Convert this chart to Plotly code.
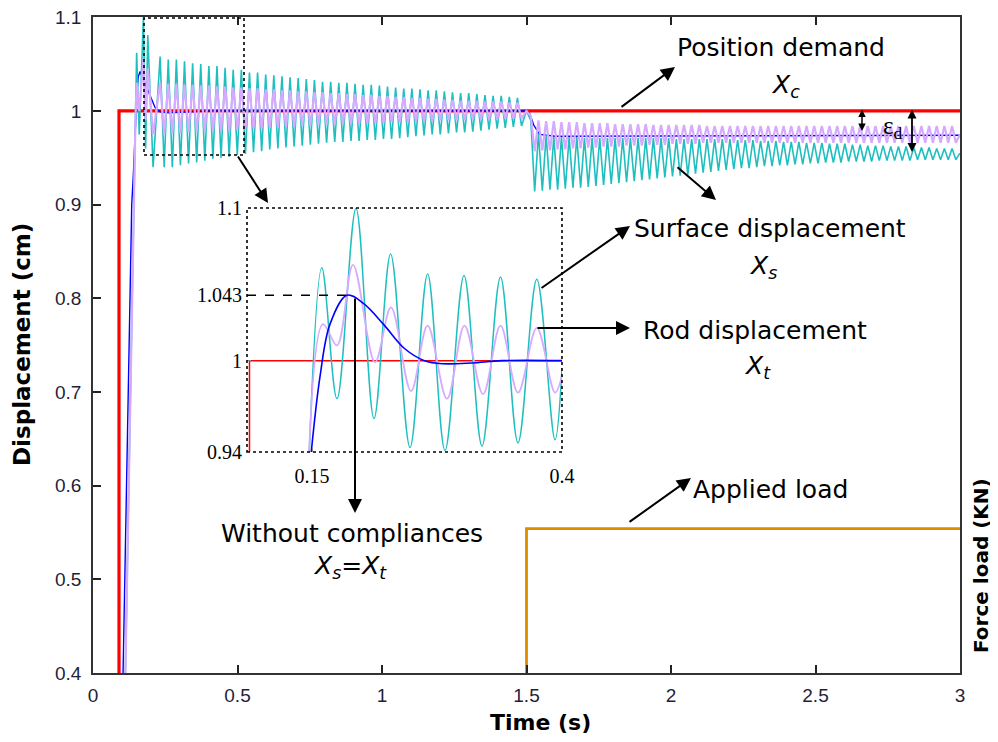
import plotly.graph_objects as go

# ---------------- data ----------------
# Position demand X_c
red_t = [0.09, 0.09, 3.0]
red_v = [0.40, 1.00, 1.00]

# Without compliances (X_s = X_t), main plot
blue_t = [0.104, 0.110, 0.118, 0.126, 0.134, 0.140, 0.145, 0.152, 0.157, 0.163,
          0.174, 0.198, 0.215, 0.232, 0.260, 0.400, 1.500, 1.510, 1.525, 1.545, 1.600, 3.000]
blue_v = [0.400, 0.500, 0.650, 0.780, 0.900, 0.934, 0.977, 1.020, 1.037, 1.042,
          1.034, 1.016, 1.0035, 0.999, 0.998, 1.000, 1.000, 0.998, 0.985, 0.975, 0.973, 0.974]

# Surface displacement X_s (cyan): start-up, then one peak/trough per cycle
cyan_rise_t = [0.112, 0.138, 0.147, 0.151, 0.160, 0.1745, 0.182, 0.1895, 0.208]
cyan_rise_v = [0.400, 0.850, 1.000, 1.062, 0.975, 1.101, 0.960, 1.081, 0.940]
pre_t0, pre_period = 0.2323, 0.0281      # cycles before the load (t < 1.5 s)
cyan_pre_hi = [1.058, 1.055, 1.055, 1.053, 1.051, 1.050, 1.048, 1.048, 1.046, 1.044,
               1.044, 1.041, 1.041, 1.039, 1.038, 1.037, 1.036, 1.035, 1.034, 1.033,
               1.031, 1.031, 1.030, 1.030, 1.029, 1.028, 1.028, 1.027, 1.026, 1.025,
               1.024, 1.024, 1.023, 1.022, 1.022, 1.021, 1.020, 1.019, 1.019, 1.018,
               1.017, 1.016, 1.016, 1.015, 1.014]
cyan_pre_lo = [0.940, 0.940, 0.942, 0.944, 0.945, 0.947, 0.949, 0.950, 0.951, 0.953,
               0.954, 0.956, 0.957, 0.959, 0.960, 0.961, 0.962, 0.963, 0.964, 0.965,
               0.966, 0.967, 0.967, 0.968, 0.968, 0.969, 0.969, 0.970, 0.970, 0.971,
               0.972, 0.973, 0.974, 0.975, 0.975, 0.976, 0.977, 0.977, 0.978, 0.979,
               0.980, 0.981, 0.982, 0.983, 0.984]
cyan_step_t = [1.500]
cyan_step_v = [1.000]
post_t0, post_period = 1.515, 0.0265     # cycles after the load (t > 1.5 s)
cyan_post_hi = [0.990, 0.976, 0.974, 0.972, 0.972, 0.972, 0.972, 0.971, 0.971, 0.971,
                0.971, 0.971, 0.971, 0.971, 0.971, 0.971, 0.971, 0.971, 0.971, 0.970,
                0.970, 0.970, 0.970, 0.970, 0.970, 0.970, 0.970, 0.969, 0.969, 0.969,
                0.968, 0.968, 0.968, 0.967, 0.967, 0.967, 0.966, 0.966, 0.966, 0.965,
                0.965, 0.965, 0.964, 0.964, 0.963, 0.963, 0.963, 0.962, 0.962, 0.962,
                0.961, 0.961, 0.961, 0.960, 0.960, 0.960]
cyan_post_lo = [0.914, 0.915, 0.916, 0.916, 0.917, 0.918, 0.918, 0.919, 0.920, 0.921,
                0.922, 0.923, 0.924, 0.925, 0.926, 0.927, 0.928, 0.929, 0.930, 0.931,
                0.932, 0.933, 0.934, 0.935, 0.936, 0.937, 0.938, 0.939, 0.939, 0.940,
                0.941, 0.941, 0.942, 0.942, 0.943, 0.943, 0.944, 0.944, 0.945, 0.945,
                0.945, 0.946, 0.946, 0.946, 0.946, 0.947, 0.947, 0.947, 0.947, 0.947,
                0.948, 0.948, 0.948, 0.948, 0.948, 0.948]
cyan_end_t = [3.000]
cyan_end_v = [0.955]

# Rod displacement X_t (lavender)
purple_rise_t = [0.112, 0.138, 0.147, 0.151, 0.160, 0.1745, 0.182, 0.1895, 0.208]
purple_rise_v = [0.400, 0.850, 0.990, 1.030, 1.000, 1.055, 0.990, 1.045, 0.975]
purple_pre_hi = [1.030, 1.029, 1.029, 1.028, 1.028, 1.027, 1.027, 1.026, 1.026, 1.025,
                 1.025, 1.024, 1.024, 1.023, 1.023, 1.022, 1.022, 1.021, 1.021, 1.020,
                 1.020, 1.019, 1.019, 1.018, 1.018, 1.017, 1.017, 1.016, 1.016, 1.015,
                 1.015, 1.014, 1.014, 1.013, 1.013, 1.012, 1.012, 1.011, 1.011, 1.011,
                 1.010, 1.010, 1.010, 1.009, 1.009]
purple_pre_lo = [0.975, 0.976, 0.976, 0.977, 0.977, 0.978, 0.978, 0.979, 0.979, 0.980,
                 0.980, 0.981, 0.981, 0.982, 0.982, 0.983, 0.983, 0.984, 0.984, 0.985,
                 0.985, 0.985, 0.986, 0.986, 0.986, 0.987, 0.987, 0.987, 0.988, 0.988,
                 0.988, 0.989, 0.989, 0.989, 0.990, 0.990, 0.990, 0.990, 0.991, 0.991,
                 0.991, 0.991, 0.992, 0.992, 0.992]
purple_step_t = [1.500]
purple_step_v = [1.000]
purple_post_hi = [0.995, 0.990, 0.989, 0.989, 0.988, 0.988, 0.988, 0.987, 0.987, 0.987,
                  0.987, 0.986, 0.986, 0.986, 0.986, 0.986, 0.985, 0.985, 0.985, 0.985,
                  0.985, 0.985, 0.985, 0.984, 0.984, 0.984, 0.984, 0.984, 0.984, 0.984,
                  0.984, 0.984, 0.984, 0.984, 0.984, 0.984, 0.984, 0.984, 0.984, 0.984,
                  0.984, 0.984, 0.984, 0.984, 0.984, 0.984, 0.984, 0.984, 0.984, 0.984,
                  0.984, 0.984, 0.984, 0.984, 0.984, 0.984]
purple_post_lo = [0.957, 0.958, 0.958, 0.959, 0.959, 0.960, 0.960, 0.961, 0.961, 0.962,
                  0.962, 0.962, 0.963, 0.963, 0.963, 0.964, 0.964, 0.964, 0.965, 0.965,
                  0.965, 0.965, 0.966, 0.966, 0.966, 0.966, 0.966, 0.966, 0.966, 0.966,
                  0.966, 0.966, 0.966, 0.966, 0.966, 0.966, 0.966, 0.966, 0.966, 0.966,
                  0.966, 0.966, 0.966, 0.966, 0.966, 0.966, 0.966, 0.966, 0.966, 0.966,
                  0.966, 0.966, 0.966, 0.966, 0.966, 0.966]
purple_end_t = [3.000]
purple_end_v = [0.975]

# Applied load (KN), on its own right-hand axis
load_t = [1.5, 1.5, 3.0]
load_v = [0.0, 1.1, 1.1]

# Inset (zoom of 0.085 .. 0.4 s)
in_red_t = [0.0875, 0.0875, 0.4]
in_red_v = [0.90, 1.00, 1.00]
in_cyan_t = [0.145, 0.1598, 0.175, 0.194, 0.212, 0.2286, 0.248, 0.2656, 0.283, 0.302,
             0.320, 0.3385, 0.356, 0.3748, 0.393, 0.400]
in_cyan_v = [0.900, 1.061, 0.975, 1.100, 0.962, 1.070, 0.943, 1.057, 0.941, 1.056,
             0.944, 1.055, 0.946, 1.0535, 0.948, 0.995]
in_purple_t = [0.146, 0.161, 0.175, 0.191, 0.213, 0.229, 0.249, 0.2656, 0.285, 0.3025,
               0.321, 0.3385, 0.356, 0.3748, 0.393, 0.400]
in_purple_v = [0.920, 1.024, 1.010, 1.063, 0.999, 1.035, 0.980, 1.023, 0.975, 1.023,
               0.978, 1.023, 0.979, 1.0215, 0.979, 0.990]
in_blue_t = [0.1485, 0.158, 0.168, 0.185, 0.2017, 0.222, 0.2425, 0.2625, 0.281, 0.310, 0.340, 0.400]
in_blue_v = [0.935, 0.9895, 1.024, 1.043, 1.0375, 1.0235, 1.008, 1.000, 0.998, 0.9985, 1.000, 1.000]

x_ticks = [0, 0.5, 1, 1.5, 2, 2.5, 3]
x_ticktext = ["0", "0.5", "1", "1.5", "2", "2.5", "3"]
y_ticks = [0.4, 0.5, 0.6, 0.7, 0.8, 0.9, 1.0, 1.1]
y_ticktext = ["0.4", "0.5", "0.6", "0.7", "0.8", "0.9", "1", "1.1"]
in_x_ticks = [0.15, 0.4]
in_x_ticktext = ["0.15", "0.4"]
in_y_ticks = [0.94, 1.0, 1.043, 1.1]
in_y_ticktext = ["0.94", "1", "1.043", "1.1"]


def build(rise_t, rise_v, pre_hi, pre_lo, step_t, step_v, post_hi, post_lo, end_t, end_v):
    t = list(rise_t)
    v = list(rise_v)
    for k, (hi, lo) in enumerate(zip(pre_hi, pre_lo)):
        tp = pre_t0 + k * pre_period
        t += [tp, tp + pre_period / 2]
        v += [hi, lo]
    t += step_t
    v += step_v
    for k, (hi, lo) in enumerate(zip(post_hi, post_lo)):
        tp = post_t0 + k * post_period
        t += [tp, tp + post_period / 2]
        v += [hi, lo]
    t += end_t
    v += end_v
    return t, v


cyan_t, cyan_v = build(cyan_rise_t, cyan_rise_v, cyan_pre_hi, cyan_pre_lo, cyan_step_t,
                       cyan_step_v, cyan_post_hi, cyan_post_lo, cyan_end_t, cyan_end_v)
purple_t, purple_v = build(purple_rise_t, purple_rise_v, purple_pre_hi, purple_pre_lo,
                           purple_step_t, purple_step_v, purple_post_hi, purple_post_lo,
                           purple_end_t, purple_end_v)

RED = "#ff0000"
BLUE = "#0000ff"
CYAN = "#1fbfbf"
LAV = "#d6aaff"
ORANGE = "#e08a00"

fig = go.Figure()
# main plot
fig.add_trace(go.Scatter(x=red_t, y=red_v, mode="lines", line=dict(color=RED, width=3.2)))
fig.add_trace(go.Scatter(x=load_t, y=load_v, mode="lines", yaxis="y2",
                         line=dict(color=ORANGE, width=2.8)))
fig.add_trace(go.Scatter(x=blue_t, y=blue_v, mode="lines", line=dict(color=BLUE, width=1.4)))
fig.add_trace(go.Scatter(x=cyan_t, y=cyan_v, mode="lines", line=dict(color=CYAN, width=1.6)))
fig.add_trace(go.Scatter(x=purple_t, y=purple_v, mode="lines", line=dict(color=LAV, width=2.2)))
# inset
fig.add_trace(go.Scatter(x=in_red_t, y=in_red_v, mode="lines", xaxis="x2", yaxis="y3",
                         line=dict(color=RED, width=1.5)))
fig.add_trace(go.Scatter(x=in_cyan_t, y=in_cyan_v, mode="lines", xaxis="x2", yaxis="y3",
                         line=dict(color=CYAN, width=1.5, shape="spline", smoothing=1.0)))
fig.add_trace(go.Scatter(x=in_purple_t, y=in_purple_v, mode="lines", xaxis="x2", yaxis="y3",
                         line=dict(color=LAV, width=1.8, shape="spline", smoothing=1.0)))
fig.add_trace(go.Scatter(x=in_blue_t, y=in_blue_v, mode="lines", xaxis="x2", yaxis="y3",
                         line=dict(color=BLUE, width=1.6, shape="spline", smoothing=1.0)))

# ---------------- layout ----------------
# screen pixel layout of the plot area (page body adds 8 px offset)
OFF = 8
SL, ST, SR, SB = 93, 17, 960, 673
W, H = 998 - OFF, 742 - OFF
PW, PH = SR - SL, SB - ST


def px(x):
    return (x - SL) / PW


def py(y):
    return (SB - y) / PH


tickfont = dict(family="Liberation Sans, Arial, sans-serif", size=19, color="#1f1f3a")
serif = dict(family="Liberation Serif, Times New Roman, serif", size=20, color="black")

fig.update_layout(
    width=W, height=H,
    margin=dict(l=SL - OFF, r=998 - SR, t=ST - OFF, b=742 - SB, autoexpand=False),
    paper_bgcolor="white", plot_bgcolor="white", showlegend=False,
    xaxis=dict(range=[0, 3], tickvals=x_ticks, ticktext=x_ticktext, ticks="inside",
               ticklen=8, tickwidth=1.5, tickcolor="#222", showline=True, linecolor="#333",
               linewidth=1.5, mirror="ticks", showgrid=False, zeroline=False,
               tickfont=tickfont, ticklabelstandoff=4, automargin=False,
               ticklabeloverflow="allow"),
    yaxis=dict(range=[0.4, 1.1003], tickvals=y_ticks, ticktext=y_ticktext, ticks="inside",
               ticklen=8, tickwidth=1.5, tickcolor="#222", showline=True, linecolor="#333",
               linewidth=1.5, mirror=True, showgrid=False, zeroline=False,
               tickfont=tickfont, ticklabelstandoff=6, automargin=False,
               ticklabeloverflow="allow"),
    yaxis2=dict(range=[0, 5], overlaying="y", side="right", showticklabels=False,
                ticks="", showgrid=False, zeroline=False, showline=False, automargin=False),
    xaxis2=dict(domain=[px(247), px(562)], anchor="y3", range=[0.085, 0.4],
                tickvals=in_x_ticks, ticktext=in_x_ticktext, ticks="inside", ticklen=4,
                tickcolor="#888", showline=False, showgrid=False, zeroline=False,
                tickfont=serif, ticklabelstandoff=10, automargin=False),
    yaxis3=dict(domain=[py(452), py(208)], anchor="x2", range=[0.94, 1.1003],
                tickvals=in_y_ticks, ticktext=in_y_ticktext, ticks="inside", ticklen=4,
                tickcolor="#888", showline=False, showgrid=False, zeroline=False,
                tickfont=serif, ticklabelstandoff=4, automargin=False),
)

# dotted boxes and the dashed peak marker
peak_v = max(in_blue_v)
peak_t = in_blue_t[in_blue_v.index(peak_v)]
fig.add_shape(type="rect", xref="paper", yref="paper", x0=px(144), x1=px(244),
              y0=py(155), y1=py(18), line=dict(color="black", width=1.6, dash="dot"))
fig.add_shape(type="rect", xref="x2 domain", yref="y3 domain", x0=0, x1=1, y0=0, y1=1,
              line=dict(color="black", width=1.6, dash="dot"))
fig.add_shape(type="line", xref="x2", yref="y3", x0=0.085, x1=peak_t, y0=peak_v, y1=peak_v,
              line=dict(color="black", width=1.5, dash="dash"))

txt = dict(family="DejaVu Sans, Verdana, sans-serif", size=25, color="black")


def label(text, x, y, font=txt, angle=0):
    fig.add_annotation(text=text, x=px(x), y=py(y), xref="paper", yref="paper",
                       showarrow=False, font=font, textangle=angle,
                       xanchor="center", yanchor="middle")


def arrow(head, tail, size=1.4, width=2.0, both=False):
    fig.add_annotation(x=px(head[0]), y=py(head[1]), xref="paper", yref="paper",
                       ax=tail[0] - head[0], ay=tail[1] - head[1], text="",
                       showarrow=True, arrowhead=2, arrowsize=size, arrowwidth=width,
                       arrowcolor="black", arrowside="end+start" if both else "end")


label("Position demand", 781, 48)
label("<i>X<sub>c</sub></i>", 785, 86)
label("ε<sub>d</sub>", 893, 127, font=dict(family="Liberation Serif, serif", size=25, color="black"))
label("Surface displacement", 770, 229)
label("<i>X<sub>s</sub></i>", 763, 267)
label("Rod displacement", 755, 330)
label("<i>X<sub>t</sub></i>", 757, 367)
label("Without compliances", 352, 533)
label("<i>X<sub>s</sub></i>=<i>X<sub>t</sub></i>", 350, 567)
label("Applied load", 770, 489)

bold = dict(family="DejaVu Sans, Verdana, sans-serif", size=22, color="black")
label("<b>Displacement (cm)</b>", 22, 345,
      font=dict(family="DejaVu Sans, Verdana, sans-serif", size=23, color="black"), angle=-90)
label("<b>Time (s)</b>", 540, 722, font=bold)
label("<b>Force load (KN)</b>", 981, 565,
      font=dict(family="DejaVu Sans, Verdana, sans-serif", size=20, color="black"), angle=-90)

arrow((675, 67), (620, 108))
arrow((268, 203), (237, 155))
arrow((716, 200), (676, 166))
arrow((630, 226), (540, 289))
arrow((630, 328), (536, 328))
arrow((355, 513), (355, 297))
arrow((691, 478), (628, 523))
arrow((862, 131), (862, 108), size=1.0, width=1.5, both=True)
arrow((912, 152), (912, 108), size=1.0, width=1.8, both=True)

fig.write_html("out.html")
